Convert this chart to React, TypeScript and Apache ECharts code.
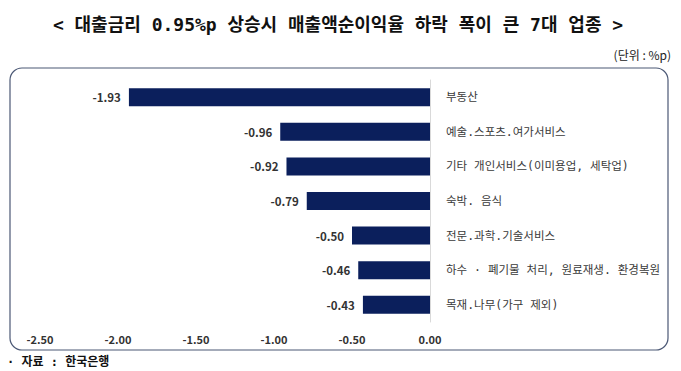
import React, { useEffect, useRef } from "react";
import * as echarts from "echarts";

const categories = [
  "부동산",
  "예술.스포츠.여가서비스",
  "기타 개인서비스(이미용업, 세탁업)",
  "숙박. 음식",
  "전문.과학.기술서비스",
  "하수 · 폐기물 처리, 원료재생. 환경복원",
  "목재.나무(가구 제외)",
];
const values = [-1.93, -0.96, -0.92, -0.79, -0.5, -0.46, -0.43];
const axisMin = -2.5;
const axisMax = 0;
const axisStep = 0.5;

const titleText = "< 대출금리 0.95%p 상승시 매출액순이익율 하락 폭이 큰 7대 업종 >";
const unitText = "(단위 : %p)";
const sourceText = "· 자료 : 한국은행";

const KR = '"Noto Sans CJK KR", "Noto Sans", sans-serif';
const KRW = '"DejaVu Sans Mono", "Noto Sans CJK KR", sans-serif';

export default function App() {
  const ref = useRef<HTMLDivElement>(null);
  useEffect(() => {
    if (!ref.current) return;
    const chart = echarts.init(ref.current, null, { renderer: "svg" });
    chart.setOption({
      animation: false,
      backgroundColor: "#ffffff",
      grid: { left: 40, right: 251, top: 80, bottom: 49 },
      xAxis: {
        type: "value",
        min: axisMin,
        max: axisMax,
        interval: axisStep,
        axisLine: { show: false },
        axisTick: { show: false },
        splitLine: { show: false },
        axisLabel: {
          margin: 11,
          color: "#333333",
          fontSize: 11,
          fontWeight: "bold",
          fontFamily: KR,
          formatter: (v: number) => v.toFixed(2),
        },
      },
      yAxis: {
        type: "category",
        data: categories,
        inverse: true,
        position: "right",
        axisLine: { show: true, lineStyle: { color: "#d9d9d9", width: 1 } },
        axisTick: { show: false },
        axisLabel: {
          margin: 16,
          color: "#3a3a3a",
          fontSize: 11.5,
          fontFamily: KRW,
          align: "left",
        },
      },
      series: [
        {
          type: "bar",
          data: values,
          barWidth: 18,
          itemStyle: { color: "#0b1f5c" },
          label: {
            show: true,
            position: "left",
            distance: 8,
            color: "#333333",
            fontSize: 11.5,
            fontWeight: "bold",
            fontFamily: KR,
            formatter: (p: any) => Number(p.value).toFixed(2),
          },
        },
      ],
      graphic: [
        {
          type: "rect",
          z: -1,
          shape: { x: 10, y: 68, width: 658, height: 282, r: 12 },
          style: {
            fill: "none",
            stroke: "#4b5875",
            lineWidth: 1.2,
          },
        },
        {
          type: "text",
          x: 338,
          y: 24,
          style: {
            text: titleText,
            fontFamily: KRW,
            fontSize: 18,
            fontWeight: "bold",
            fill: "#111111",
            align: "center",
            verticalAlign: "middle",
          },
        },
        {
          type: "text",
          x: 671,
          y: 54,
          style: {
            text: unitText,
            fontFamily: KR,
            fontSize: 12,
            fill: "#222222",
            align: "right",
            verticalAlign: "middle",
          },
        },
        {
          type: "text",
          x: 7,
          y: 362,
          style: {
            text: sourceText,
            fontFamily: KRW,
            fontSize: 12,
            fontWeight: "bold",
            fill: "#111111",
            align: "left",
            verticalAlign: "middle",
          },
        },
      ],
    });
    return () => chart.dispose();
  }, []);
  return (
    <div
      ref={ref}
      style={{ position: "absolute", left: 0, top: 0, width: 681, height: 371 }}
    />
  );
}
